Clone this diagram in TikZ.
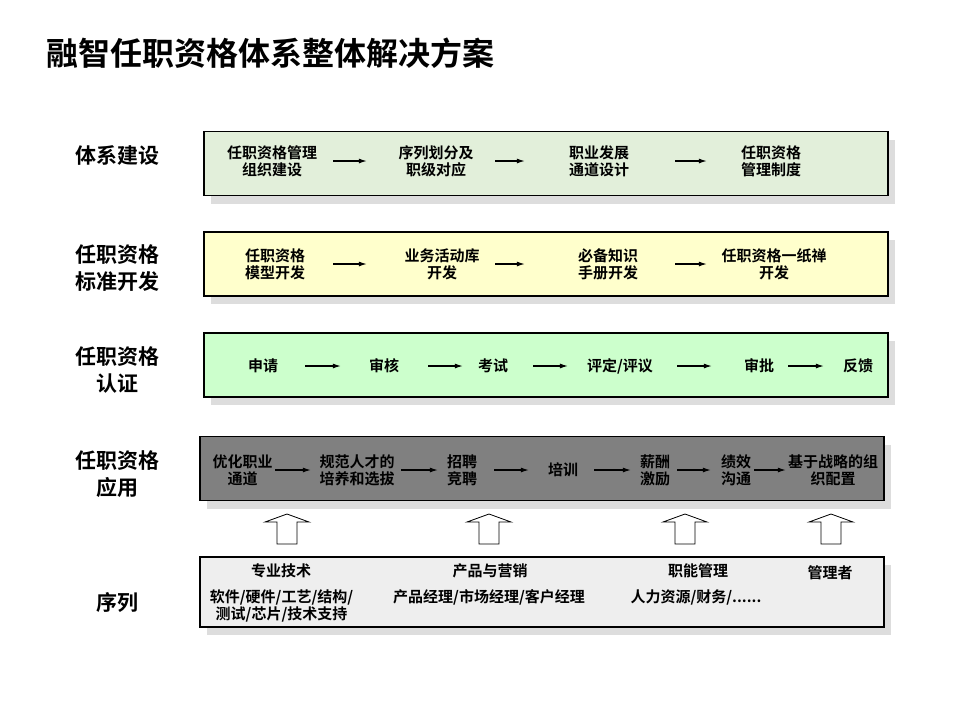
\documentclass[tikz,border=0pt]{standalone}
\usepackage{fontspec}
\setmainfont{Noto Sans CJK SC}[BoldFont={Noto Sans CJK SC Bold}]
\usepackage{xcolor}
\usepackage{tikz}
\usetikzlibrary{positioning,arrows.meta,shadows}
\definecolor{buildGreen}{HTML}{E2EFDA}
\definecolor{stdYellow}{HTML}{FFFFCC}
\definecolor{certMint}{HTML}{CCFFCC}
\definecolor{appGray}{HTML}{808080}
\definecolor{seqGray}{HTML}{EEEEEE}
\definecolor{shadowGray}{HTML}{DDDDDD}
\tikzset{
  rowBox/.style={
    rectangle,
    draw=black,
    line width=1.1pt,
    minimum width=684pt,
    minimum height=64pt,
    drop shadow={shadow xshift=7pt,shadow yshift=-8pt,fill=shadowGray,opacity=1}
  },
  rowLabel/.style={
    font=\bfseries\fontsize{21}{26.5}\selectfont,
    align=center,
    inner sep=0pt
  },
  stageText/.style={
    font=\bfseries\fontsize{15}{17}\selectfont,
    align=center,
    inner sep=0pt
  },
  flowArrow/.style 2 args={
    -{Latex[length=8pt,width=5pt]},
    line width=1.1pt,
    shorten <=#1pt,
    shorten >=#2pt
  },
  liftArrow/.style={
    draw=black,
    fill=white,
    line width=0.8pt
  }
}
\begin{document}
\begin{tikzpicture}[x=1pt,y=-1pt]
        \useasboundingbox[fill=white] (0,0) rectangle (960,720);
        \node[anchor=west, inner sep=0pt, font=\bfseries\fontsize{32}{36}\selectfont] (title) at (46,53) {融智任职资格体系整体解决方案};

        \node[rowLabel] (buildLabel) at (117,155) {体系建设};
        \node[rowLabel] (stdLabel) at (117,268) {任职资格\\标准开发};
        \node[rowLabel] (certLabel) at (117,370) {任职资格\\认证};
        \node[rowLabel] (appLabel) at (117,474) {任职资格\\应用};
        \node[rowLabel] (seqLabel) at (117,603) {序列};

        \node[rowBox, fill=buildGreen] (build) at (546,163.5) {};
        \node[rowBox, fill=stdYellow] (std) at (546,264) {};
        \node[rowBox, fill=certMint] (cert) at (546,365) {};
        \node[rowBox, fill=appGray] (app) at (542,468.5) {};
        \node[rowBox, fill=seqGray, minimum height=70pt] (seq) at (542,592) {};

        \node[stageText] (b1) at (272,161) {任职资格管理\\组织建设};
        \node[stageText] (b2) at (436,161) {序列划分及\\职级对应};
        \node[stageText] (b3) at (599,161) {职业发展\\通道设计};
        \node[stageText] (b4) at (771,161) {任职资格\\管理制度};
        \draw[flowArrow={16}{31.5}] (b1.east) -- (b2.west);
        \draw[flowArrow={21.5}{44}] (b2.east) -- (b3.west);
        \draw[flowArrow={46}{34}] (b3.east) -- (b4.west);

        \node[stageText] (s1) at (275,264) {任职资格\\模型开发};
        \node[stageText] (s2) at (442,264) {业务活动库\\开发};
        \node[stageText] (s3) at (608,264) {必备知识\\手册开发};
        \node[stageText] (s4) at (774,264) {任职资格一纸禅\\开发};
        \draw[flowArrow={28}{37.5}] (s1.east) -- (s2.west);
        \draw[flowArrow={15.5}{53}] (s2.east) -- (s3.west);
        \draw[flowArrow={37}{14.5}] (s3.east) -- (s4.west);

        \node[stageText] (c1) at (263,366) {申请};
        \node[stageText] (c2) at (384,366) {审核};
        \node[stageText] (c3) at (493,366) {考试};
        \node[stageText] (c4) at (620,366) {评定/评议};
        \node[stageText] (c5) at (759,366) {审批};
        \node[stageText] (c6) at (858,366) {反馈};
        \draw[flowArrow={27}{28}] (c1.east) -- (c2.west);
        \draw[flowArrow={29}{15}] (c2.east) -- (c3.west);
        \draw[flowArrow={25}{19}] (c3.east) -- (c4.west);
        \draw[flowArrow={24}{32}] (c4.east) -- (c5.west);
        \draw[flowArrow={14}{19}] (c5.east) -- (c6.west);

        \node[stageText] (a1) at (242.5,470) {优化职业\\通道};
        \node[stageText] (a2) at (357,470) {规范人才的\\培养和选拔};
        \node[stageText] (a3) at (462,470) {招聘\\竞聘};
        \node[stageText] (a4) at (563,470) {培训};
        \node[stageText] (a5) at (655,470) {薪酬\\激励};
        \node[stageText] (a6) at (736,470) {绩效\\沟通};
        \node[stageText] (a7) at (833,470) {基于战略的组\\织配置};
        \draw[flowArrow={2.5}{8.5}] (a1.east) -- (a2.west);
        \draw[flowArrow={6.5}{9}] (a2.east) -- (a3.west);
        \draw[flowArrow={17}{19}] (a3.east) -- (a4.west);
        \draw[flowArrow={16}{9}] (a4.east) -- (a5.west);
        \draw[flowArrow={7}{10}] (a5.east) -- (a6.west);
        \draw[flowArrow={3}{2}] (a6.east) -- (a7.west);

        \draw[liftArrow] (277,544) -- (277,522) -- (265,522) -- (287,514) -- (309,522) -- (297,522) -- (297,544) -- cycle;
        \draw[liftArrow] (479,544) -- (479,522) -- (467,522) -- (489,514) -- (511,522) -- (499,522) -- (499,544) -- cycle;
        \draw[liftArrow] (675,544) -- (675,522) -- (663,522) -- (685,514) -- (707,522) -- (695,522) -- (695,544) -- cycle;
        \draw[liftArrow] (821,544) -- (821,522) -- (809,522) -- (831,514) -- (853,522) -- (841,522) -- (841,544) -- cycle;

        \node[stageText] (techHead) at (281,571) {专业技术};
        \node[stageText] (techList) at (281.5,605.5) {软件/硬件/工艺/结构/\\测试/芯片/技术支持};
        \node[stageText] (mktHead) at (490,571) {产品与营销};
        \node[stageText] (mktList) at (489,597) {产品经理/市场经理/客户经理};
        \node[stageText] (funcHead) at (698,571) {职能管理};
        \node[stageText] (funcList) at (696,597) {人力资源/财务/......};
        \node[stageText] (mgrHead) at (830,573) {管理者};

    \end{tikzpicture}
\end{document}
